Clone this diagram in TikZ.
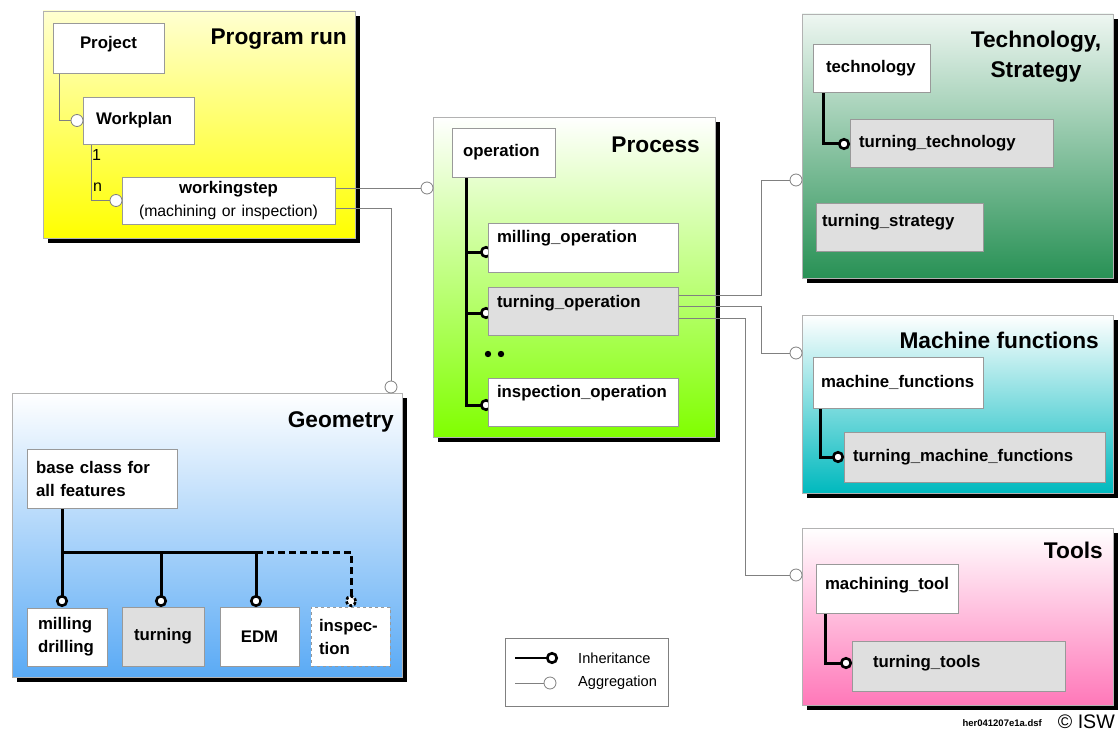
\documentclass[tikz,border=0pt]{standalone}
\usepackage{fontspec}
\setmainfont{Liberation Sans}
\usetikzlibrary{positioning,shadows}

\definecolor{runyellow}{RGB}{255,255,0}
\definecolor{procgreen}{RGB}{128,255,0}
\definecolor{techgreen}{RGB}{40,145,85}
\definecolor{machteal}{RGB}{0,185,190}
\definecolor{toolpink}{RGB}{255,120,185}
\definecolor{geoblue}{RGB}{90,170,245}

\newcommand{\boxfont}{\fontsize{16.8}{23}\selectfont\bfseries}
\newcommand{\titlefont}{\fontsize{22.7}{30}\selectfont\bfseries}
\newcommand{\legfont}{\fontsize{14.6}{18}\selectfont}

\pgfdeclarelayer{panels}
\pgfdeclarelayer{wires}
\pgfsetlayers{panels,wires,main}

\begin{document}
\begin{tikzpicture}[x=1pt,y=-1pt,
	panel/.style={draw=gray!60, line width=0.8pt, inner sep=0pt, outer sep=0pt, anchor=north west, top color=white,
		general shadow={fill=black, shadow xshift=5pt, shadow yshift=-5pt}},
	box/.style={draw=gray!80, line width=0.8pt, fill=white, inner sep=0pt, outer sep=0pt, font=\boxfont, align=left},
	grey/.style={box, fill=gray!25},
	lift/.style={text depth=#1},
	title/.style={font=\titlefont, inner sep=0pt, anchor=east},
	agg/.style={circle, draw=gray, line width=0.8pt, fill=white, minimum size=12pt, inner sep=0pt, outer sep=0pt},
	inh/.style={circle, draw=black, line width=2.6pt, fill=white, minimum size=9.5pt, inner sep=0pt, outer sep=0pt},
	aggline/.style={draw=gray, line width=0.8pt},
	inhline/.style={draw=black, line width=3pt}]

	\useasboundingbox (0,0) rectangle (1119,733);

	\begin{pgfonlayer}{panels}
	\node[panel, top color=yellow!18, bottom color=runyellow, minimum width=312, minimum height=227] (prun) at (43,11) {};
	\node[panel, bottom color=procgreen, minimum width=282, minimum height=320] (proc) at (433,117) {};
	\node[panel, top color=techgreen!8, bottom color=techgreen, minimum width=311, minimum height=264] (techp) at (802,14) {};
	\node[panel, bottom color=machteal, minimum width=311, minimum height=178] (machp) at (802,315) {};
	\node[panel, bottom color=toolpink, minimum width=311, minimum height=177] (toolp) at (802,528) {};
	\node[panel, bottom color=geoblue, minimum width=390, minimum height=284] (geop) at (12,393) {};
	\node[draw=gray, line width=0.8pt, fill=white, minimum width=163, minimum height=68, inner sep=0pt] (legend) at (586.5,672) {};
	\end{pgfonlayer}

	\node[title] (prun-t) at (347,39) {Program run};
	\node[title] (proc-t) at (700,145) {Process};
	\node[title, anchor=center, align=center] (techp-t) at (1036,57) {Technology,\\Strategy};
	\node[title] (machp-t) at (1099,340) {Machine functions};
	\node[title] (toolp-t) at (1103,550) {Tools};
	\node[title] (geop-t) at (394,422) {Geometry};

	\node[box, align=center, text width=111pt, minimum width=111, minimum height=50, lift=12pt] (project) at (108.5,48) {Project};
	\node[box, text width=85pt, minimum width=111, minimum height=47] (workplan) at (138.5,120.5) {Workplan};
	\node[box, align=center, text width=213pt, minimum width=213, minimum height=47] (wstep) at (228.5,200.5)
		{workingstep\\{\fontsize{15.8}{23}\selectfont\mdseries (machining or inspection)}};
	\node[agg, left=0pt of workplan] (a1) {};
	\node[agg, left=0pt of wstep] (a2) {};
	\node[font=\fontsize{16}{18}\selectfont, inner sep=0pt, anchor=west] (mult1) at (92,155) {1};
	\node[font=\fontsize{16}{18}\selectfont, inner sep=0pt, anchor=west] (multn) at (93,187) {n};

	\begin{pgfonlayer}{wires}
	\node[inh] (pi1) at (486,252) {};
	\node[inh] (pi2) at (486,313) {};
	\node[inh] (pi3) at (486,405) {};
	\end{pgfonlayer}
	\node[box, text width=81pt, minimum width=103, minimum height=49] (op) at (503.5,152.5) {operation};
	\node[box, text width=172pt, minimum width=190, minimum height=49, lift=22.5pt] (mop) at (583,247.5) {milling\_operation};
	\node[grey, text width=172pt, minimum width=190, minimum height=48, lift=19.5pt] (tuop) at (583,311) {turning\_operation};
	\node[box, text width=172pt, minimum width=190, minimum height=48, lift=21.5pt] (iop) at (583,402) {inspection\_operation};
	\fill (488,354) circle (3.2) (501,354) circle (3.2);
	\node[agg] (a3) at (427,188) {};
	\node[agg] (a4) at (391,387) {};

	\node[box, text width=91pt, minimum width=117, minimum height=48] (tech) at (871.5,68) {technology};
	\node[grey, text width=185pt, minimum width=203, minimum height=48] (ttech) at (951.5,143) {turning\_technology};
	\node[grey, text width=155pt, minimum width=167, minimum height=48, lift=13.5pt] (tstrat) at (899.5,227) {turning\_strategy};
	\node[inh] (ti) at (844,144) {};

	\node[box, text width=154pt, minimum width=170, minimum height=51] (mfun) at (898,382.5) {machine\_functions};
	\node[grey, text width=243pt, minimum width=261, minimum height=50] (tmfun) at (974.5,457) {turning\_machine\_functions};
	\node[inh] (mi) at (838,457) {};

	\node[box, text width=124pt, minimum width=142, minimum height=49, lift=10.5pt] (mtool) at (887,588.5) {machining\_tool};
	\node[grey, text width=171pt, minimum width=213, minimum height=50, lift=9.5pt] (ttool) at (958.5,666) {turning\_tools};
	\node[inh] (oi) at (846,663) {};

	\node[agg] (a5) at (796,180) {};
	\node[agg] (a6) at (796,353) {};
	\node[agg] (a7) at (796,575) {};

	\node[box, text width=132pt, minimum width=150, minimum height=59] (base) at (102,478.5) {base class for\\all features};
	\node[box, text width=58pt, minimum width=80, minimum height=58] (mill) at (67,637) {milling\\drilling};
	\node[grey, align=center, text width=82pt, minimum width=82, minimum height=59] (turn) at (163,636.5) {turning};
	\node[box, align=center, text width=79pt, minimum width=79, minimum height=59] (edm) at (259.5,636.5) {EDM};
	\node[box, dashed, text width=63pt, minimum width=79, minimum height=59] (insp) at (350.5,636.5) {inspec-\\tion};
	\node[inh] (g1) at (62,601) {};
	\node[inh] (g2) at (161,601) {};
	\node[inh] (g3) at (256,601) {};
	\node[inh, dash pattern=on 3pt off 2pt] (g4) at (351,601) {};
	\coordinate (gbar) at (62,552);

	\node[inh] (li) at (552,658) {};
	\node[agg] (la) at (550,683) {};
	\coordinate (li0) at (515,658);
	\coordinate (la0) at (515,683);
	\node[font=\legfont, anchor=west, inner sep=0pt] (li-t) at (578,658) {Inheritance};
	\node[font=\legfont, anchor=west, inner sep=0pt] (la-t) at (578,683) {Aggregation};

	\node[font=\fontsize{9.5}{11}\selectfont\bfseries, anchor=east, inner sep=0pt] (fname) at (1042,723) {her041207e1a.dsf};
	\node[font=\fontsize{19.6}{22}\selectfont, anchor=east, inner sep=0pt] (isw) at (1115,722) {© ISW};

	\begin{pgfonlayer}{wires}
	\draw[aggline] ([xshift=6pt]project.south west) |- (a1);
	\draw[aggline] ([xshift=8pt]workplan.south west) |- (a2);
	\draw[aggline] (wstep.east |- a3) -- (a3);
	\draw[aggline] ([yshift=-7.5pt]wstep.east) -| (a4);

	\coordinate (opx) at ([xshift=14pt]op.south west);
	\draw[inhline] (opx) |- (pi3);
	\draw[inhline] (opx |- pi1) -- (pi1);
	\draw[inhline] (opx |- pi2) -- (pi2);

	\draw[aggline] ([yshift=16pt]tuop.east) -- ++(83,0) |- (a5);
	\draw[aggline] ([yshift=5pt]tuop.east) -- ++(83,0) |- (a6);
	\draw[aggline] ([yshift=-7pt]tuop.east) -- ++(67,0) |- (a7);

	\draw[inhline] ([xshift=10pt]tech.south west) |- (ti);
	\draw[inhline] ([xshift=7pt]mfun.south west) |- (mi);
	\draw[inhline] ([xshift=9pt]mtool.south west) |- (oi);

	\draw[inhline] (base.south -| g1) -- (g1);
	\draw[inhline] (gbar) -| (g3);
	\draw[inhline] (g2 |- gbar) -- (g2);
	\draw[inhline, dash pattern=on 7pt off 4pt] (g3 |- gbar) -| (g4);

	\draw[inhline, line width=2.5pt] (li0) -- (li);
	\draw[aggline] (la0) -- (la);
	\end{pgfonlayer}

\end{tikzpicture}
\end{document}
